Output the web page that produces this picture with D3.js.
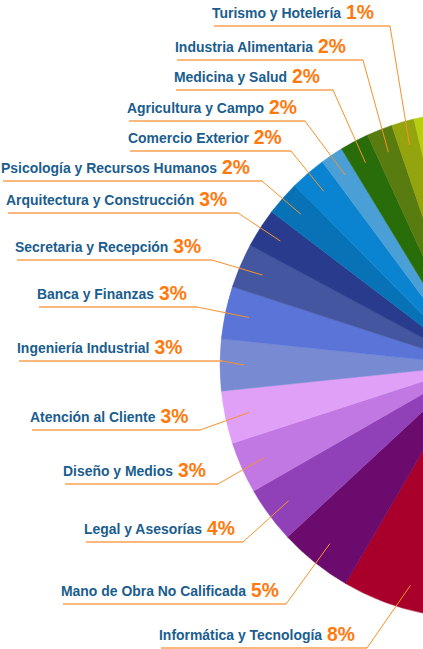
<!DOCTYPE html>
<html>
<head>
<meta charset="utf-8">
<script src="https://cdn.jsdelivr.net/npm/d3@7"></script>
<style>
  html, body { margin: 0; padding: 0; background: #fff; }
  svg { display: block; }
  .name { font-family: "Liberation Sans", Arial, sans-serif; font-weight: bold; font-size: 15px; fill: #1a5d8e; }
  .pct { font-family: "Liberation Sans", Arial, sans-serif; font-weight: bold; font-size: 21px; fill: #ff7a0e; }
</style>
</head>
<body>
<svg width="423" height="649"></svg>
<script>
// visible slices, bottom to top (clockwise in the pie)
const categories = [
  'Informática y Tecnología', 'Mano de Obra No Calificada', 'Legal y Asesorías',
  'Diseño y Medios', 'Atención al Cliente', 'Ingeniería Industrial',
  'Banca y Finanzas', 'Secretaria y Recepción', 'Arquitectura y Construcción',
  'Psicología y Recursos Humanos', 'Comercio Exterior', 'Agricultura y Campo',
  'Medicina y Salud', 'Industria Alimentaria', 'Turismo y Hotelería'
]
const percentLabels = [8, 5, 4, 3, 3, 3, 3, 3, 3, 2, 2, 2, 2, 2, 1]
// slice sizes
const shares = [8.0, 4.7, 3.6, 3.3, 3.35, 3.3, 3.35, 2.85, 2.5, 2.2, 2.3, 1.45, 1.85, 1.65, 1.45]
// parts of the pie that fall outside the frame
const hiddenRight = 50.4
const hiddenTop = 3.75

const sliceColors = [
  '#a8002b', '#6b0b6d', '#9041b8', '#c178e3', '#e0a0f8', '#788bd2',
  '#5a74d8', '#4456a0', '#283b8c', '#0772b6', '#0a84d0', '#4a9fd6',
  '#296d0a', '#587c10', '#93a40e'
]
const hiddenRightColor = '#c8102e'
const hiddenTopColor = '#b7ce12'

// label placement: name start x, baseline y, end of the underline
const labelLayout = [
  {x: 159, y: 640, ux: 367},
  {x: 61, y: 596, ux: 286},
  {x: 84, y: 534, ux: 243},
  {x: 63, y: 476, ux: 218},
  {x: 30, y: 422, ux: 200},
  {x: 17, y: 353, ux: 222},
  {x: 37, y: 299, ux: 197},
  {x: 15, y: 252, ux: 212},
  {x: 6, y: 205, ux: 238},
  {x: 1, y: 173, ux: 262},
  {x: 128, y: 143, ux: 291},
  {x: 127, y: 113, ux: 305},
  {x: 174, y: 82, ux: 333},
  {x: 175, y: 52, ux: 363},
  {x: 212, y: 18, ux: 390},
]

const cx = 473
const cy = 365
const R = 253
const LEADER_R = 229
const NAME_SQUEEZE = 0.93
const PCT_SQUEEZE = 0.92

const svg = d3.select('svg')

const pieData = [{share: hiddenRight, color: hiddenRightColor, idx: -1}]
  .concat(shares.map((s, i) => ({share: s, color: sliceColors[i], idx: i})))
  .concat([{share: hiddenTop, color: hiddenTopColor, idx: -1}])

const pie = d3.pie().sort(null).value((d) => d.share)
const arcs = pie(pieData)

const arc = d3.arc().innerRadius(0).outerRadius(R)
const leaderArc = d3.arc().innerRadius(LEADER_R).outerRadius(LEADER_R)

const g = svg.append('g').attr('transform', `translate(${cx}, ${cy})`)
g.selectAll('path.slice')
  .data(arcs)
  .enter()
  .append('path')
  .attr('class', 'slice')
  .attr('d', arc)
  .attr('fill', (d) => d.data.color)
  .attr('stroke', (d) => d.data.color)
  .attr('stroke-width', 0.5)

const lines = svg.append('g')
const labels = svg.append('g')
arcs.filter((d) => d.data.idx >= 0).forEach((d) => {
  const i = d.data.idx
  const lay = labelLayout[i]
  const [ex, ey] = leaderArc.centroid(d)
  const uy = lay.y + 8

  // squeeze horizontally with a transform so the glyphs look condensed
  const name = labels.append('text')
    .attr('class', 'name')
    .attr('transform', `translate(${lay.x}, ${lay.y}) scale(${NAME_SQUEEZE}, 1)`)
    .text(categories[i])
  const nw = name.node().getComputedTextLength() * NAME_SQUEEZE

  labels.append('text')
    .attr('class', 'pct')
    .attr('transform', `translate(${lay.x + nw + 5}, ${lay.y + 1}) scale(${PCT_SQUEEZE}, 1)`)
    .text(percentLabels[i] + '%')

  lines.append('path')
    .attr('d', d3.line()([[lay.x + 2, uy], [lay.ux, uy]]))
    .attr('fill', 'none')
    .attr('stroke', '#f9a054')
    .attr('stroke-width', 1.6)
  lines.append('path')
    .attr('d', d3.line()([[lay.ux, uy], [cx + ex, cy + ey]]))
    .attr('fill', 'none')
    .attr('stroke', '#f7922a')
    .attr('stroke-width', 1)
})
</script>
</body>
</html>
